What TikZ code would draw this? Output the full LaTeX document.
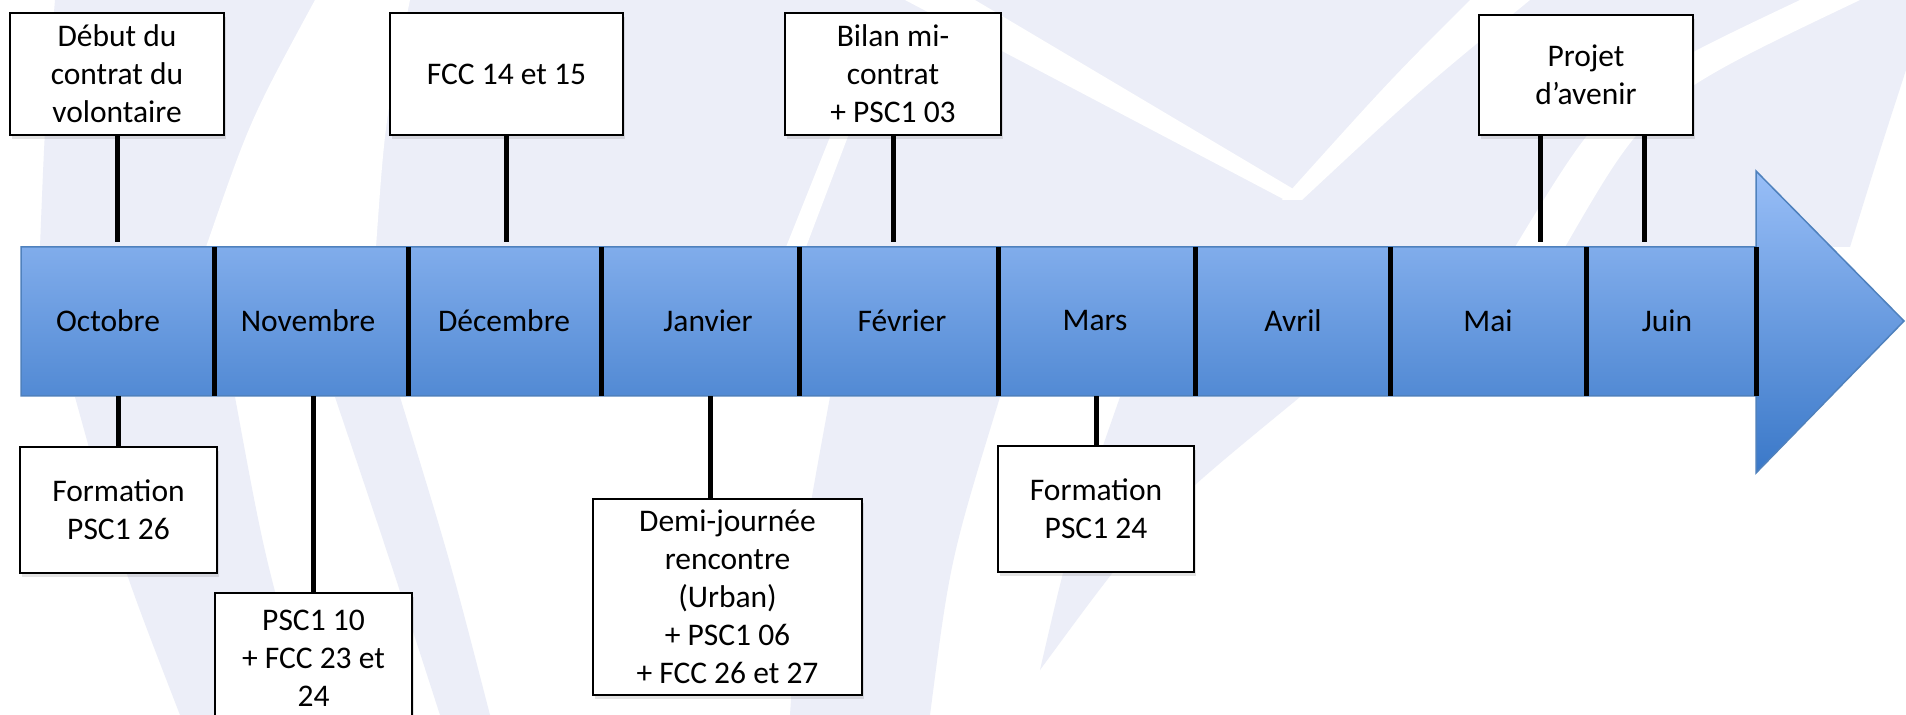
\documentclass[tikz,border=0pt]{standalone}
\usepackage{fontspec}
\setmainfont{Carlito}
\usetikzlibrary{shadows,calc}
\definecolor{wm}{RGB}{236,238,248}
\definecolor{bartop}{RGB}{152,190,247}
\definecolor{barbot}{RGB}{58,120,200}
\definecolor{barline}{RGB}{79,129,189}
\newcommand\evfont{\fontsize{15.75pt}{19pt}\selectfont}
\begin{document}
\begin{tikzpicture}[x=0.5pt,y=-0.5pt,
  evbox/.style={draw=black, line width=1.25pt, fill=white, align=center, inner sep=0pt, font=\evfont,
     drop shadow={opacity=0.22, shadow xshift=1pt, shadow yshift=-1.8pt}},
  link/.style={line width=2.5pt, black},
  divider/.style={line width=2.5pt, black},
  month/.style={font=\evfont, inner sep=0pt}]
\useasboundingbox (0,0) rectangle (1906,715);
\fill[white] (0,0) rectangle (1906,715);
% watermark (top)
\fill[wm] (55,0) -- (1906,0) -- (1906,70) .. controls (1880,150) .. (1850,247) -- (40,247) .. controls (45,120) .. (55,0) -- cycle;
\fill[white] (315,0) -- (410,0) .. controls (385,120) .. (376,247) -- (206,247) .. controls (250,120) .. (315,0) -- cycle;
\fill[white] (842,107) -- (858,110) -- (806,247) -- (786,247) -- cycle;
\fill[white] (905,0) -- (975,0) -- (1295,190) -- (1285,200) -- cycle;
\fill[white] (1470,0) .. controls (1390,80) .. (1282,200) -- (1302,200) .. controls (1420,90) .. (1530,0) -- cycle;
\fill[white] (1800,0) -- (1860,0) .. controls (1650,100) .. (1565,247) -- (1515,247) .. controls (1610,90) .. (1800,0) -- cycle;
% watermark (bottom)
\fill[wm] (75,397) -- (235,397) .. controls (265,560) .. (310,715) -- (180,715) .. controls (120,560) .. (75,397) -- cycle;
\fill[wm] (335,397) -- (400,397) .. controls (450,560) .. (490,715) -- (440,715) .. controls (390,560) .. (335,397) -- cycle;
\fill[wm] (830,397) -- (1000,397) .. controls (950,560) .. (930,715) -- (790,715) .. controls (800,560) .. (830,397) -- cycle;
\fill[wm] (1120,397) -- (1300,397) .. controls (1150,520) .. (1040,670) .. controls (1070,540) .. (1120,397) -- cycle;
% timeline arrow
\shadedraw[top color=bartop, bottom color=barbot, draw=barline, line width=0.75pt]
  (21,247) -- (1756,247) -- (1756,171) -- (1904,321) -- (1756,473) -- (1756,396) -- (21,396) -- cycle;
\node[minimum width=867.5pt, minimum height=74.5pt, inner sep=0pt] (bar) at (888.5,321.5) {};
\foreach \d in {214,408,601,799,998,1195,1390,1586,1756}
  \draw[divider] (\d,247) -- (\d,396);
% months
\node[month] (oct) at (108,321) {Octobre};
\node[month] (nov) at (308,321) {Novembre};
\node[month] (dec) at (504,321) {Décembre};
\node[month] (jan) at (708,321) {Janvier};
\node[month] (fev) at (902,321) {Février};
\node[month] (mar) at (1095,321) {Mars};
\node[month] (avr) at (1293,321) {Avril};
\node[month] (mai) at (1488,321) {Mai};
\node[month] (jui) at (1667,321) {Juin};
% top boxes
\node[evbox, minimum width=107pt, minimum height=61pt] (deb) at (117,74) {Début du\\contrat du\\volontaire};
\node[evbox, minimum width=116.5pt, minimum height=61pt] (fcc) at (506.5,74) {FCC 14 et 15};
\node[evbox, minimum width=108pt, minimum height=61pt] (bil) at (893,74) {Bilan mi-\\contrat\\+ PSC1 03};
\node[evbox, minimum width=107pt, minimum height=60pt] (pro) at (1586,75) {Projet\\d’avenir};
% bottom boxes
\node[evbox, minimum width=98.5pt, minimum height=63pt] (f26) at (118.5,510) {Formation\\PSC1 26};
\node[evbox, minimum width=98.5pt, minimum height=65.5pt] (psc) at (313.5,658.5) {PSC1 10\\+ FCC 23 et\\24};
\node[evbox, minimum width=134.5pt, minimum height=98pt] (dem) at (727.5,597) {Demi-journée\\rencontre\\(Urban)\\+ PSC1 06\\+ FCC 26 et 27};
\node[evbox, minimum width=98pt, minimum height=63pt] (f24) at (1096,509) {Formation\\PSC1 24};
% connectors
\coordinate (pj1) at ($(pro.south)+(-46,0)$);
\coordinate (pj2) at ($(pro.south)+(58,0)$);
\coordinate (dj) at ($(dem.north)+(-17,0)$);
\draw[link, shorten >=2.5pt] (deb.south) -- (deb.south |- bar.north);
\draw[link, shorten >=2.5pt] (fcc.south) -- (fcc.south |- bar.north);
\draw[link, shorten >=2.5pt] (bil.south) -- (bil.south |- bar.north);
\draw[link, shorten >=2.5pt] (pj1) -- (pj1 |- bar.north);
\draw[link, shorten >=2.5pt] (pj2) -- (pj2 |- bar.north);
\draw[link] (f26.north |- bar.south) -- (f26.north);
\draw[link] (psc.north |- bar.south) -- (psc.north);
\draw[link] (dj |- bar.south) -- (dj);
\draw[link] (f24.north |- bar.south) -- (f24.north);
\end{tikzpicture}
\end{document}
